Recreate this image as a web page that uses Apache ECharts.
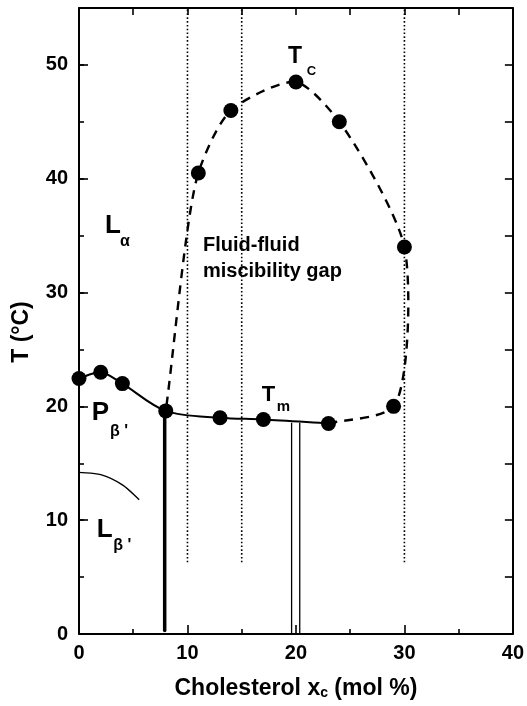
<!DOCTYPE html>
<html>
<head>
<meta charset="utf-8">
<script src="https://cdn.jsdelivr.net/npm/echarts@6/dist/echarts.min.js"></script>
<style>
  html, body { margin: 0; padding: 0; background: #fff; }
  #chart { width: 527px; height: 706px; }
</style>
</head>
<body>
<div id="chart"></div>
<script>
// Phase diagram: cholesterol content (mol %) vs temperature (°C)

// Main transition (Tm) line, solid
const mainTransitionX = [0, 2, 4, 8, 13, 17, 23];
const mainTransitionT = [22.45, 23.0, 22.0, 19.6, 19.0, 18.85, 18.5];

// Boundary of the fluid-fluid miscibility gap, dashed
const gapBoundaryX = [23, 29, 30, 24, 20, 14, 11, 8];
const gapBoundaryT = [18.5, 20.0, 34.0, 45.0, 48.5, 46.0, 40.5, 19.6];

// Measured points
const measuredX = [0, 2, 4, 8, 11, 13, 14, 17, 20, 23, 24, 29, 30];
const measuredT = [22.45, 23.0, 22.0, 19.6, 40.5, 19.0, 46.0, 18.85, 48.5, 18.5, 45.0, 20.0, 34.0];

// Pretransition boundary (L_beta' / P_beta')
const pretransitionX = [0, 2, 4, 5.55];
const pretransitionT = [14.2, 14.0, 13.1, 11.8];

// Dotted guides at the compositions examined
const guideX = [10, 15, 30];
const guideT = [6.3, 55];

// Vertical phase boundaries below Tm
const solidBoundaryX = 7.9;
const solidBoundaryT = [0.3, 19.6];
const doubleBoundaryX = [19.6, 20.35];
const doubleBoundaryT = [0, 18.55];

// Axis ranges / tick steps
const xRange = [0, 40];
const yRange = [0, 55];
const xLabelStep = 10;
const yLabelStep = 10;
const minorStep = 5;

const FONT = '"Liberation Sans", Arial, Helvetica, sans-serif';

const pairs = (xs, ys) => xs.map((x, i) => [x, ys[i]]);

// Centripetal Catmull-Rom through pixel points, emitted as cubic Bezier path data.
// `tension` scales the handle lengths (1 = plain Catmull-Rom).
function splinePath(pts, tension) {
  const n = pts.length;
  const get = i => {
    if (i < 0) return [2 * pts[0][0] - pts[1][0], 2 * pts[0][1] - pts[1][1]];
    if (i >= n) return [2 * pts[n - 1][0] - pts[n - 2][0], 2 * pts[n - 1][1] - pts[n - 2][1]];
    return pts[i];
  };
  const knot = (a, b) => Math.max(Math.pow(Math.hypot(b[0] - a[0], b[1] - a[1]), 0.5), 1e-6);
  let d = 'M' + pts[0][0] + ' ' + pts[0][1];
  for (let i = 0; i < n - 1; i++) {
    const p0 = get(i - 1), p1 = pts[i], p2 = pts[i + 1], p3 = get(i + 2);
    const d1 = knot(p0, p1), d2 = knot(p1, p2), d3 = knot(p2, p3);
    const c1 = [0, 1].map(k => (d1 * d1 * p2[k] - d2 * d2 * p0[k] + (2 * d1 * d1 + 3 * d1 * d2 + d2 * d2) * p1[k]) / (3 * d1 * (d1 + d2)));
    const c2 = [0, 1].map(k => (d3 * d3 * p1[k] - d2 * d2 * p3[k] + (2 * d3 * d3 + 3 * d3 * d2 + d2 * d2) * p2[k]) / (3 * d3 * (d3 + d2)));
    const h1 = [0, 1].map(k => p1[k] + (c1[k] - p1[k]) * tension);
    const h2 = [0, 1].map(k => p2[k] + (c2[k] - p2[k]) * tension);
    d += ' C' + h1[0] + ' ' + h1[1] + ' ' + h2[0] + ' ' + h2[1] + ' ' + p2[0] + ' ' + p2[1];
  }
  return d;
}

// Custom series drawing one smooth curve through its data, via the grid's coordinate system
function curveSeries(data, style, tension) {
  return {
    type: 'custom', data, silent: true, animation: false, z: 3, clip: false,
    renderItem: (params, api) => {
      if (params.dataIndex !== 0) return null;
      const px = data.map(p => api.coord(p));
      return {
        type: 'path',
        shape: { pathData: splinePath(px, tension) },
        style: Object.assign({ stroke: '#000', fill: 'none', lineWidth: 2 }, style)
      };
    }
  };
}

const lineSeries = (data, style) => ({
  type: 'line', data, showSymbol: false, symbol: 'none', silent: true,
  animation: false, lineStyle: Object.assign({ color: '#000' }, style), z: 3
});

const chart = echarts.init(document.getElementById('chart'), null, { renderer: 'canvas' });

const axisLine = { show: true, onZero: false, lineStyle: { color: '#000', width: 2 } };
const tickStyle = { color: '#000', width: 1.6 };

const xAxes = [
  {
    type: 'value', position: 'bottom', min: xRange[0], max: xRange[1], interval: xLabelStep,
    axisLine,
    axisTick: { show: true, inside: true, length: 9, lineStyle: tickStyle },
    minorTick: { show: true, splitNumber: 2, length: 5, lineStyle: tickStyle },
    splitLine: { show: false },
    axisLabel: { color: '#000', fontFamily: FONT, fontWeight: 'bold', fontSize: 20, margin: 9 },
    name: 'Cholesterol x{sub|c} (mol %)',
    nameLocation: 'middle', nameGap: 43,
    nameTextStyle: {
      color: '#000', fontFamily: FONT, fontWeight: 'bold', fontSize: 23,
      rich: { sub: { fontFamily: FONT, fontWeight: 'bold', fontSize: 14, color: '#000', lineHeight: 4, verticalAlign: 'bottom' } }
    }
  },
  {
    type: 'value', position: 'top', min: xRange[0], max: xRange[1], interval: minorStep,
    axisLine,
    axisTick: { show: true, inside: true, length: 7, lineStyle: tickStyle },
    splitLine: { show: false },
    axisLabel: { show: false }
  }
];

const yAxes = [
  {
    type: 'value', position: 'left', min: yRange[0], max: yRange[1], interval: yLabelStep,
    axisLine,
    axisTick: { show: true, inside: true, length: 9, lineStyle: tickStyle },
    splitLine: { show: false },
    axisLabel: { color: '#000', fontFamily: FONT, fontWeight: 'bold', fontSize: 20, margin: 11, showMaxLabel: false },
    name: 'T (°C)', nameLocation: 'middle', nameGap: 46, nameRotate: 90,
    nameTextStyle: { color: '#000', fontFamily: FONT, fontWeight: 'bold', fontSize: 23, padding: [0, 22, 0, 0] }
  },
  {
    type: 'value', position: 'left', min: yRange[0], max: yRange[1], interval: minorStep,
    axisLine: { show: false },
    axisTick: { show: true, inside: true, length: 5, lineStyle: tickStyle },
    splitLine: { show: false },
    axisLabel: { show: false }
  },
  {
    type: 'value', position: 'right', min: yRange[0], max: yRange[1], interval: minorStep,
    axisLine,
    axisTick: { show: true, inside: true, length: 8, lineStyle: tickStyle },
    splitLine: { show: false },
    axisLabel: { show: false }
  }
];

const series = [
  curveSeries(pairs(mainTransitionX, mainTransitionT), { lineWidth: 2 }, 1),
  curveSeries(pairs(gapBoundaryX, gapBoundaryT), { lineWidth: 2.4, lineDash: [9, 7] }, 0.72),
  curveSeries(pairs(pretransitionX, pretransitionT), { lineWidth: 1.4 }, 1),
  ...guideX.map(x => lineSeries(guideT.map(t => [x, t]), { width: 1.6, type: [1.6, 2.2] })),
  lineSeries(solidBoundaryT.map(t => [solidBoundaryX, t]), { width: 3.5, cap: 'round' }),
  ...doubleBoundaryX.map(x => lineSeries(doubleBoundaryT.map(t => [x, t]), { width: 1.3 })),
  {
    type: 'scatter', data: pairs(measuredX, measuredT), symbol: 'circle', symbolSize: 15,
    itemStyle: { color: '#000', opacity: 1 }, silent: true, animation: false, z: 5
  }
];

chart.setOption({
  animation: false,
  backgroundColor: '#fff',
  grid: { left: 79, right: 14, top: 8, bottom: 72, containLabel: false },
  xAxis: xAxes,
  yAxis: yAxes,
  series
});

// Region and curve labels, anchored in data coordinates (left edge, vertical centre)
const labels = [
  { text: 'T', at: [19.26, 50.75], size: 23 },
  { text: 'C', at: [21.0, 49.45], size: 13 },
  { text: 'T', at: [16.85, 20.98], size: 22 },
  { text: 'm', at: [18.22, 19.96], size: 15 },
  { text: 'L', at: [2.4, 35.9], size: 26 },
  { text: 'α', at: [3.78, 34.5], size: 16 },
  { text: 'P', at: [1.17, 19.45], size: 26 },
  { text: 'β \'', at: [2.86, 17.8], size: 16 },
  { text: 'L', at: [1.63, 9.13], size: 26 },
  { text: 'β \'', at: [3.16, 7.73], size: 16 },
  { text: 'Fluid-fluid\nmiscibility gap', at: [11.43, 33.0], size: 20, lineHeight: 26 }
];

chart.setOption({
  graphic: labels.map(l => {
    const p = chart.convertToPixel({ gridIndex: 0 }, l.at);
    return {
      type: 'text', x: p[0], y: p[1], silent: true, z: 10,
      style: {
        text: l.text, fill: '#000', font: 'bold ' + l.size + 'px ' + FONT,
        align: 'left', verticalAlign: 'middle', lineHeight: l.lineHeight
      }
    };
  })
});
</script>
</body>
</html>
